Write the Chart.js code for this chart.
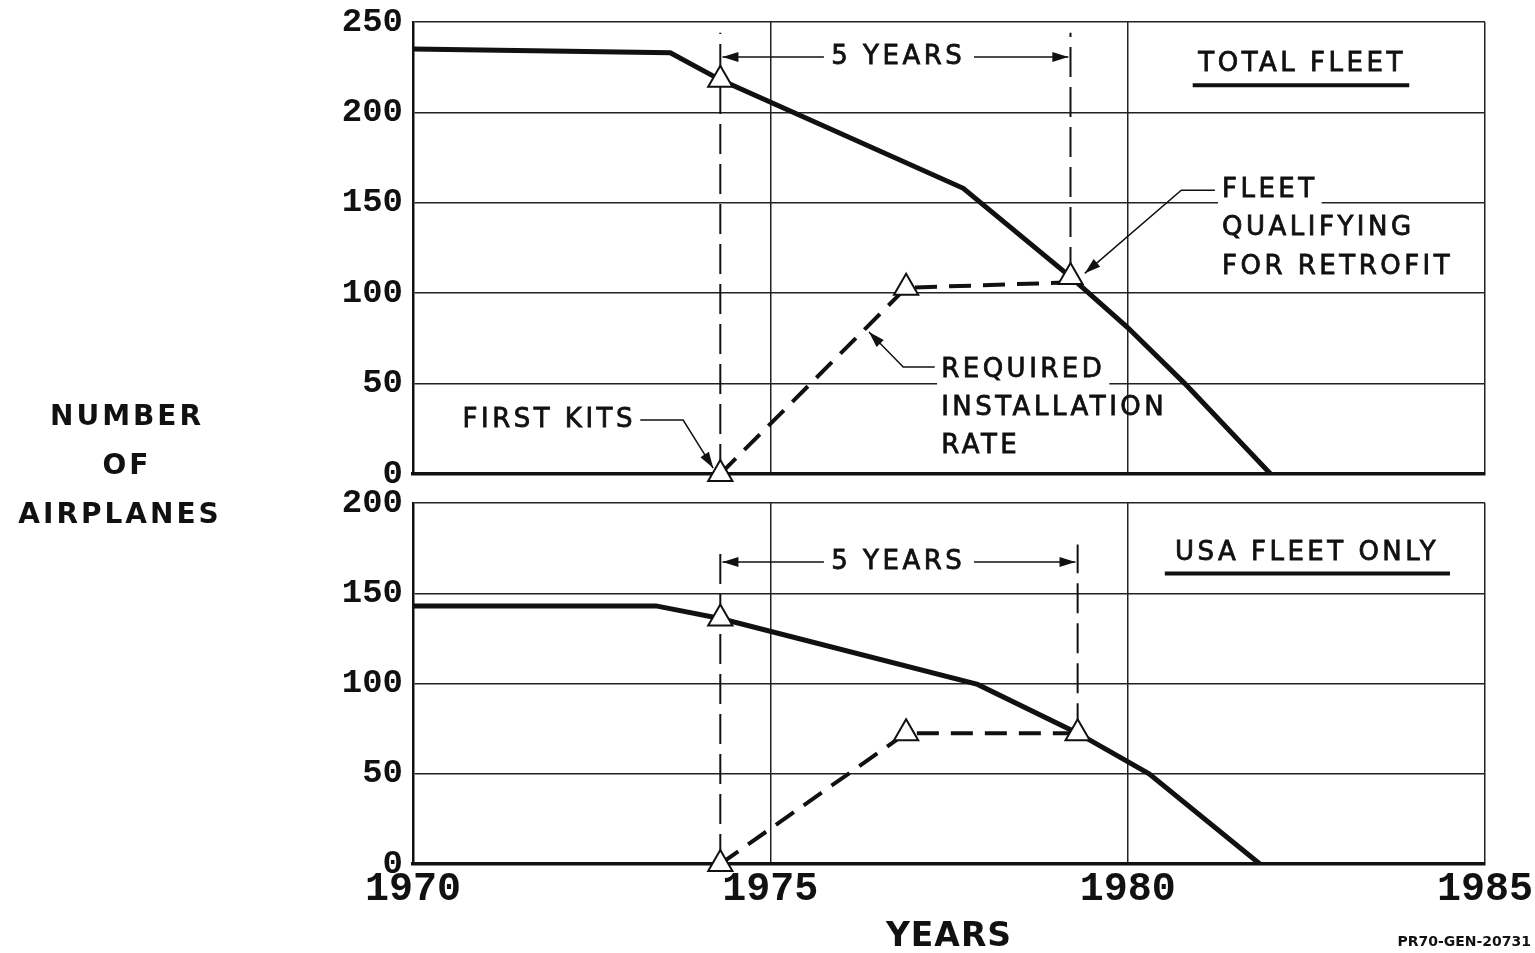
<!DOCTYPE html>
<html>
<head>
<meta charset="utf-8">
<script src="https://cdn.jsdelivr.net/npm/chart.js@4.4.1/dist/chart.umd.min.js"></script>
<style>
  html, body { margin: 0; background: #fff; }
  #wrap { position: relative; width: 1535px; height: 953px; }
  #wrap canvas { position: absolute; left: 0; top: 0; }
</style>
</head>
<body>
<div id="wrap">
  <canvas id="topChart" width="1535" height="953"></canvas>
  <canvas id="bottomChart" width="1535" height="953"></canvas>
</div>
<script>
// values
const yearTicks = [1970, 1975, 1980, 1985];
const topTicks = [0, 50, 100, 150, 200, 250];
const bottomTicks = [0, 50, 100, 150, 200];

const fleetYears = [1970, 1973.6, 1974.3, 1977.7, 1979.2, 1980.0, 1980.8, 1982.0];
const fleetTotal = [235, 233, 218, 158, 109, 81, 50, 0];
const rateYears = [1974.3, 1976.9, 1979.2];
const rateTotal = [0, 103, 106];

const usaYears = [1970, 1973.4, 1974.3, 1977.9, 1979.3, 1980.3, 1981.85];
const usaFleet = [143, 143, 136, 99.5, 72.5, 50, 0];
const usaRateYears = [1974.3, 1976.9, 1979.3];
const usaRate = [0, 72.5, 72.5];

const INK = '#111';
const LABEL_FONT = "'DejaVu Sans', sans-serif";

const pts = (xs, ys) => xs.map((x, i) => ({ x: x, y: ys[i] }));

function arrowHead(ctx, x1, y1, x2, y2, len, half) {
    const a = Math.atan2(y2 - y1, x2 - x1);
    ctx.beginPath();
    ctx.moveTo(x2, y2);
    ctx.lineTo(x2 - len * Math.cos(a) + half * Math.sin(a), y2 - len * Math.sin(a) - half * Math.cos(a));
    ctx.lineTo(x2 - len * Math.cos(a) - half * Math.sin(a), y2 - len * Math.sin(a) + half * Math.cos(a));
    ctx.closePath();
    ctx.fill();
}

// text and leader lines, placed in data units
const notes = {
    id: 'notes',
    afterDatasetsDraw(chart, args, opts) {
        const ctx = chart.ctx;
        const sx = chart.scales.x, sy = chart.scales.y;
        const px = v => sx.getPixelForValue(v), py = v => sy.getPixelForValue(v);
        ctx.save();
        ctx.fillStyle = INK;
        ctx.strokeStyle = INK;
        (opts.items || []).forEach(it => {
            if (it.type === 'text') {
                ctx.font = it.font || ('26px ' + LABEL_FONT);
                ctx.letterSpacing = (it.spacing == null ? 3.5 : it.spacing) + 'px';
                ctx.textAlign = it.align || 'left';
                ctx.textBaseline = 'middle';
                const x = px(it.x), y = py(it.y);
                if (it.bg) {
                    const w = ctx.measureText(it.t).width;
                    let left = x;
                    if (ctx.textAlign === 'center') left = x - w / 2;
                    if (ctx.textAlign === 'right') left = x - w;
                    ctx.fillStyle = '#fff';
                    ctx.fillRect(left - 4, y - 16, w + 8, 32);
                    ctx.fillStyle = INK;
                }
                ctx.fillText(it.t, x, y);
                ctx.lineWidth = 0.8;
                ctx.strokeText(it.t, x, y);
            } else if (it.type === 'line') {
                ctx.lineWidth = it.width || 1.5;
                ctx.beginPath();
                it.pts.forEach((p, i) => {
                    if (i === 0) ctx.moveTo(px(p[0]), py(p[1]));
                    else ctx.lineTo(px(p[0]), py(p[1]));
                });
                ctx.stroke();
                if (it.arrow) {
                    const n = it.pts.length;
                    const a = it.pts[n - 2], b = it.pts[n - 1];
                    arrowHead(ctx, px(a[0]), py(a[1]), px(b[0]), py(b[1]), 16, 5);
                }
            }
        });
        ctx.restore();
    }
};

// page-level titles, pixel layout
const titles = {
    id: 'titles',
    afterDraw(chart) {
        const ctx = chart.ctx;
        ctx.save();
        ctx.fillStyle = INK;
        ctx.textAlign = 'center';
        ctx.textBaseline = 'middle';
        ctx.font = "bold 28px 'DejaVu Sans', sans-serif";
        ctx.letterSpacing = '3px';
        ctx.fillText('NUMBER', 127, 418);
        ctx.fillText('OF', 127, 467);
        ctx.fillText('AIRPLANES', 120, 516);
        ctx.font = "bold 33px 'DejaVu Sans', sans-serif";
        ctx.letterSpacing = '1px';
        const a = chart.chartArea;
        ctx.fillText('YEARS', (a.left + a.right) / 2, 937);
        ctx.font = "bold 14px 'DejaVu Sans', sans-serif";
        ctx.letterSpacing = '0px';
        ctx.textAlign = 'right';
        ctx.fillText('PR70-GEN-20731', 1531, 942);
        ctx.restore();
    }
};

function makeChart(id, cfg) {
    const tri = {
        type: 'scatter',
        data: cfg.marks,
        pointStyle: 'triangle',
        pointRadius: 14,
        pointBackgroundColor: '#fff',
        pointBorderColor: INK,
        pointBorderWidth: 2,
        showLine: false,
        clip: false,
        order: 0
    };
    const bracket = (x, y0, y1) => ({
        type: 'line',
        data: [{ x: x, y: y0 }, { x: x, y: y1 }],
        borderColor: INK,
        borderWidth: 2,
        borderDash: [30, 10],
        pointRadius: 0,
        order: 2
    });
    return new Chart(document.getElementById(id), {
        type: 'line',
        data: {
            datasets: [
                tri,
                {
                    data: cfg.fleet,
                    borderColor: INK,
                    borderWidth: 5,
                    pointRadius: 0,
                    order: 1
                },
                {
                    data: cfg.rate,
                    borderColor: INK,
                    borderWidth: 4,
                    borderDash: [22, 12],
                    pointRadius: 0,
                    order: 1
                },
                bracket(cfg.rate[0].x, 0, cfg.bracketTop),
                bracket(cfg.endYear, cfg.endValue, cfg.bracketTop)
            ]
        },
        options: {
            responsive: false,
            animation: false,
            events: [],
            layout: { padding: cfg.padding, autoPadding: false },
            plugins: {
                legend: { display: false },
                tooltip: { enabled: false },
                notes: { items: cfg.notes }
            },
            scales: {
                x: {
                    type: 'linear',
                    min: 1970,
                    max: 1985,
                    afterBuildTicks: s => { s.ticks = yearTicks.map(v => ({ value: v })); },
                    afterFit: s => {
                        s.height = cfg.showYears ? 60 : 0;
                        s.paddingLeft = 0;
                        s.paddingRight = 0;
                    },
                    ticks: {
                        display: cfg.showYears,
                        color: INK,
                        padding: 2,
                        maxRotation: 0,
                        callback: v => String(v),
                        font: { family: "'Liberation Mono', monospace", size: 40, weight: 'bold' }
                    },
                    grid: { color: '#222', lineWidth: 1.5, drawTicks: false },
                    border: { color: INK, width: 3.5 }
                },
                y: {
                    min: 0,
                    max: cfg.yTicks[cfg.yTicks.length - 1],
                    afterBuildTicks: s => { s.ticks = cfg.yTicks.map(v => ({ value: v })); },
                    afterFit: s => {
                        s.width = 413;
                        s.paddingTop = 0;
                        s.paddingBottom = 0;
                    },
                    ticks: {
                        color: INK,
                        padding: 10,
                        callback: v => String(v),
                        font: { family: "'Liberation Mono', monospace", size: 34, weight: 'bold' }
                    },
                    grid: { color: '#222', lineWidth: 1.5, drawTicks: false },
                    border: { color: INK, width: 2.5 }
                }
            }
        },
        plugins: cfg.extra ? [notes, cfg.extra] : [notes]
    });
}

const textBlock = (t, x, y, more) => Object.assign({ type: 'text', t: t, x: x, y: y }, more || {});

makeChart('topChart', {
    fleet: pts(fleetYears, fleetTotal),
    rate: pts(rateYears, rateTotal),
    marks: [
        { x: fleetYears[2], y: fleetTotal[2] },
        { x: fleetYears[4], y: fleetTotal[4] },
        { x: rateYears[0], y: rateTotal[0] },
        { x: rateYears[1], y: rateTotal[1] }
    ],
    endYear: fleetYears[4],
    endValue: fleetTotal[4],
    bracketTop: 244,
    yTicks: topTicks,
    showYears: false,
    padding: { top: 22, right: 50, bottom: 479, left: 0 },
    notes: [
        textBlock('5 YEARS', 1976.79, 230.6, { align: 'center' }),
        { type: 'line', pts: [[1975.75, 230.6], [1974.33, 230.6]], arrow: true },
        { type: 'line', pts: [[1977.85, 230.6], [1979.17, 230.6]], arrow: true },
        textBlock('TOTAL FLEET', 1982.44, 226.8, { align: 'center' }),
        { type: 'line', pts: [[1980.91, 215], [1983.94, 215]], width: 4 },
        textBlock('FLEET', 1981.32, 157, { bg: true }),
        textBlock('QUALIFYING', 1981.32, 136),
        textBlock('FOR RETROFIT', 1981.32, 114.5),
        { type: 'line', pts: [[1981.22, 157], [1980.75, 157], [1979.4, 111]], arrow: true },
        textBlock('REQUIRED', 1977.39, 57.5, { bg: true }),
        textBlock('INSTALLATION', 1977.39, 36.5),
        textBlock('RATE', 1977.39, 15.5),
        { type: 'line', pts: [[1977.3, 59.2], [1976.86, 59.2], [1976.38, 78.5]], arrow: true },
        textBlock('FIRST KITS', 1973.12, 29.8, { align: 'right' }),
        { type: 'line', pts: [[1973.18, 29.8], [1973.78, 29.8], [1974.2, 3.3]], arrow: true }
    ]
});

makeChart('bottomChart', {
    fleet: pts(usaYears, usaFleet),
    rate: pts(usaRateYears, usaRate),
    marks: [
        { x: usaYears[2], y: usaFleet[2] },
        { x: usaYears[4], y: usaFleet[4] },
        { x: usaRateYears[0], y: usaRate[0] },
        { x: usaRateYears[1], y: usaRate[1] }
    ],
    endYear: usaYears[4],
    endValue: usaFleet[4],
    bracketTop: 177,
    yTicks: bottomTicks,
    showYears: true,
    padding: { top: 503, right: 50, bottom: 29, left: 0 },
    notes: [
        textBlock('5 YEARS', 1976.79, 167.3, { align: 'center' }),
        { type: 'line', pts: [[1975.75, 167.3], [1974.33, 167.3]], arrow: true },
        { type: 'line', pts: [[1977.85, 167.3], [1979.27, 167.3]], arrow: true },
        textBlock('USA FLEET ONLY', 1982.51, 172.3, { align: 'center' }),
        { type: 'line', pts: [[1980.52, 161], [1984.51, 161]], width: 4 }
    ],
    extra: titles
});
</script>
</body>
</html>
